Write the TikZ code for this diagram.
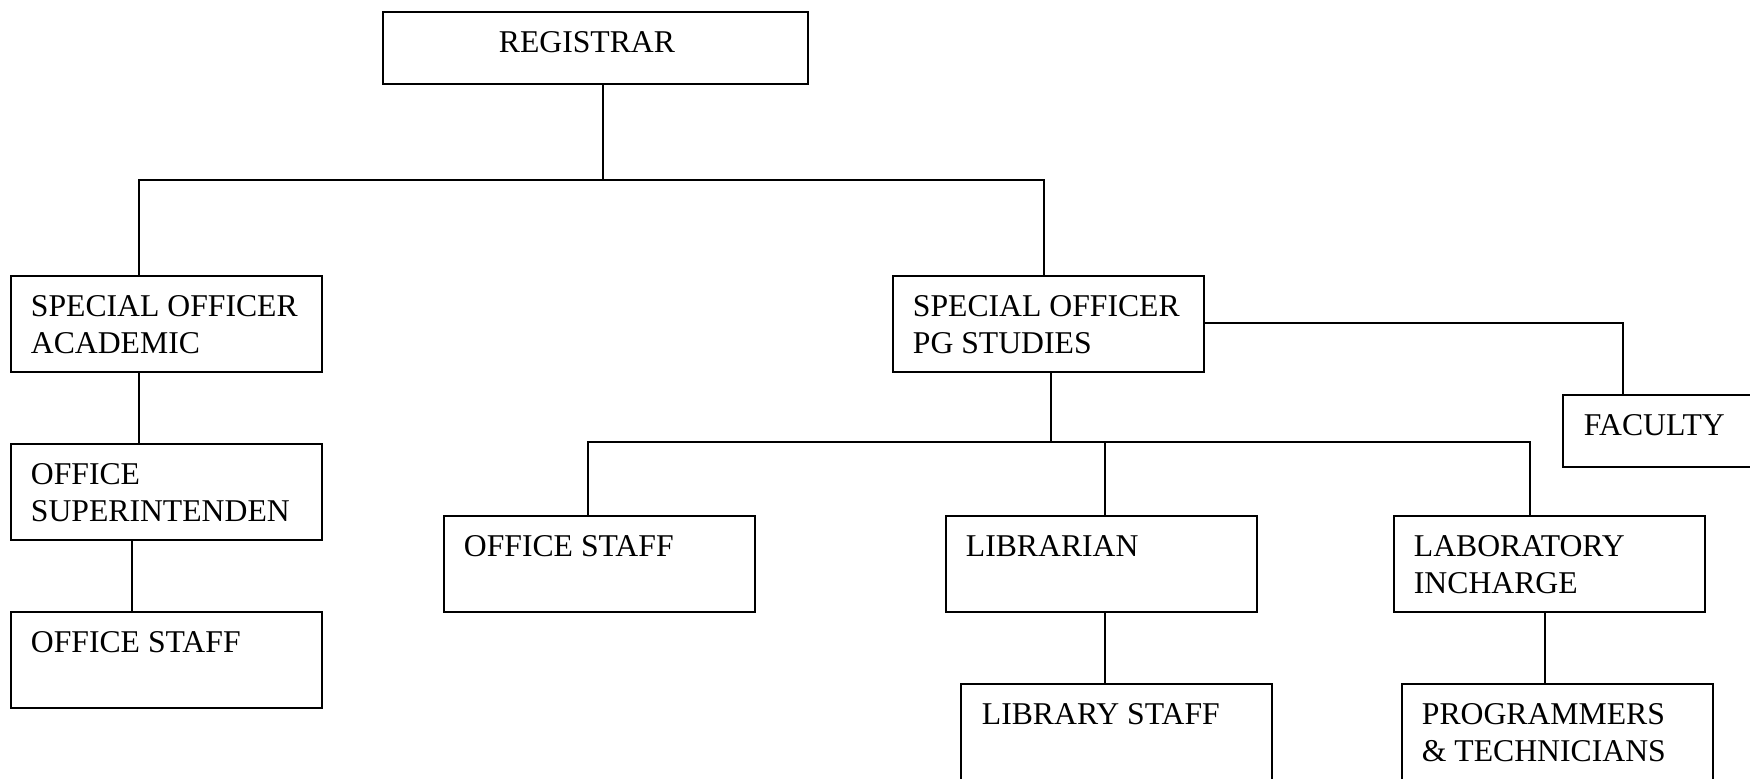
\documentclass[tikz,border=0pt]{standalone}
\usepackage{fontspec}
\setmainfont{Liberation Serif}
\newlength\pxu
\setlength\pxu{0.5pt}
% box content: [left inset]{width}{height}{text}
\newcommand\bx[4][20]{\parbox[t][#3\pxu][t]{#2\pxu}{\raggedright\leftskip=#1\pxu\relax\rule{0pt}{41\pxu}#4}}
\begin{document}
\begin{tikzpicture}[x=0.5pt,y=-0.5pt,
  box/.style={draw, line width=0.9pt, inner sep=0pt, anchor=north west,
    font=\fontsize{15.85}{18.5}\selectfont},
  conn/.style={line width=0.8pt}]
\useasboundingbox (0,0) rectangle (1750,778);
% boxes
\node[box] (reg) at (382,11)   {\bx[116]{425}{72}{REGISTRAR}};
\node[box] (soa) at (10,275)   {\bx{311}{96}{SPECIAL OFFICER\\ACADEMIC}};
\node[box] (sop) at (892,275)  {\bx{311}{96}{SPECIAL OFFICER\\PG STUDIES}};
\node[box] (fac) at (1562,394) {\bx[21]{311}{72}{FACULTY}};
\node[box] (sup) at (10,443)   {\bx{311}{96}{OFFICE\\SUPERINTENDEN}};
\node[box] (osa) at (10,611)   {\bx{311}{96}{OFFICE STAFF}};
\node[box] (osp) at (443,515)  {\bx{311}{96}{OFFICE STAFF}};
\node[box] (lib) at (945,515)  {\bx{311}{96}{LIBRARIAN}};
\node[box] (lab) at (1393,515) {\bx{311}{96}{LABORATORY\\INCHARGE}};
\node[box] (lst) at (960,683)  {\bx[21]{311}{130}{LIBRARY STAFF}};
\node[box] (prg) at (1401,683) {\bx{311}{130}{PROGRAMMERS\\\& TECHNICIANS}};
% junction points
\coordinate (j1) at (603,180);
\coordinate (a1) at (139,180);
\coordinate (a2) at (1044,180);
\coordinate (f1) at (1623,323);
\coordinate (b0) at (1051,442);
\coordinate (b1) at (588,442);
\coordinate (b2) at (1105,442);
\coordinate (b3) at (1530,442);
\coordinate (c1) at (1545,0);
\coordinate (d1) at (132,0);
% connectors
\draw[conn] (reg.south -| j1) -- (j1);
\draw[conn] (soa.north -| a1) -- (a1) -- (a2) -- (sop.north -| a2);
\draw[conn] (sop.east |- f1) -- (f1) -- (fac.north -| f1);
\draw[conn] (sop.south -| b0) -- (b0);
\draw[conn] (osp.north -| b1) -- (b1) -- (b3) -- (lab.north -| b3);
\draw[conn] (b2) -- (lib.north -| b2);
\draw[conn] (lib.south -| b2) -- (lst.north -| b2);
\draw[conn] (lab.south -| c1) -- (prg.north -| c1);
\draw[conn] (soa.south -| a1) -- (sup.north -| a1);
\draw[conn] (sup.south -| d1) -- (osa.north -| d1);
\end{tikzpicture}
\end{document}
